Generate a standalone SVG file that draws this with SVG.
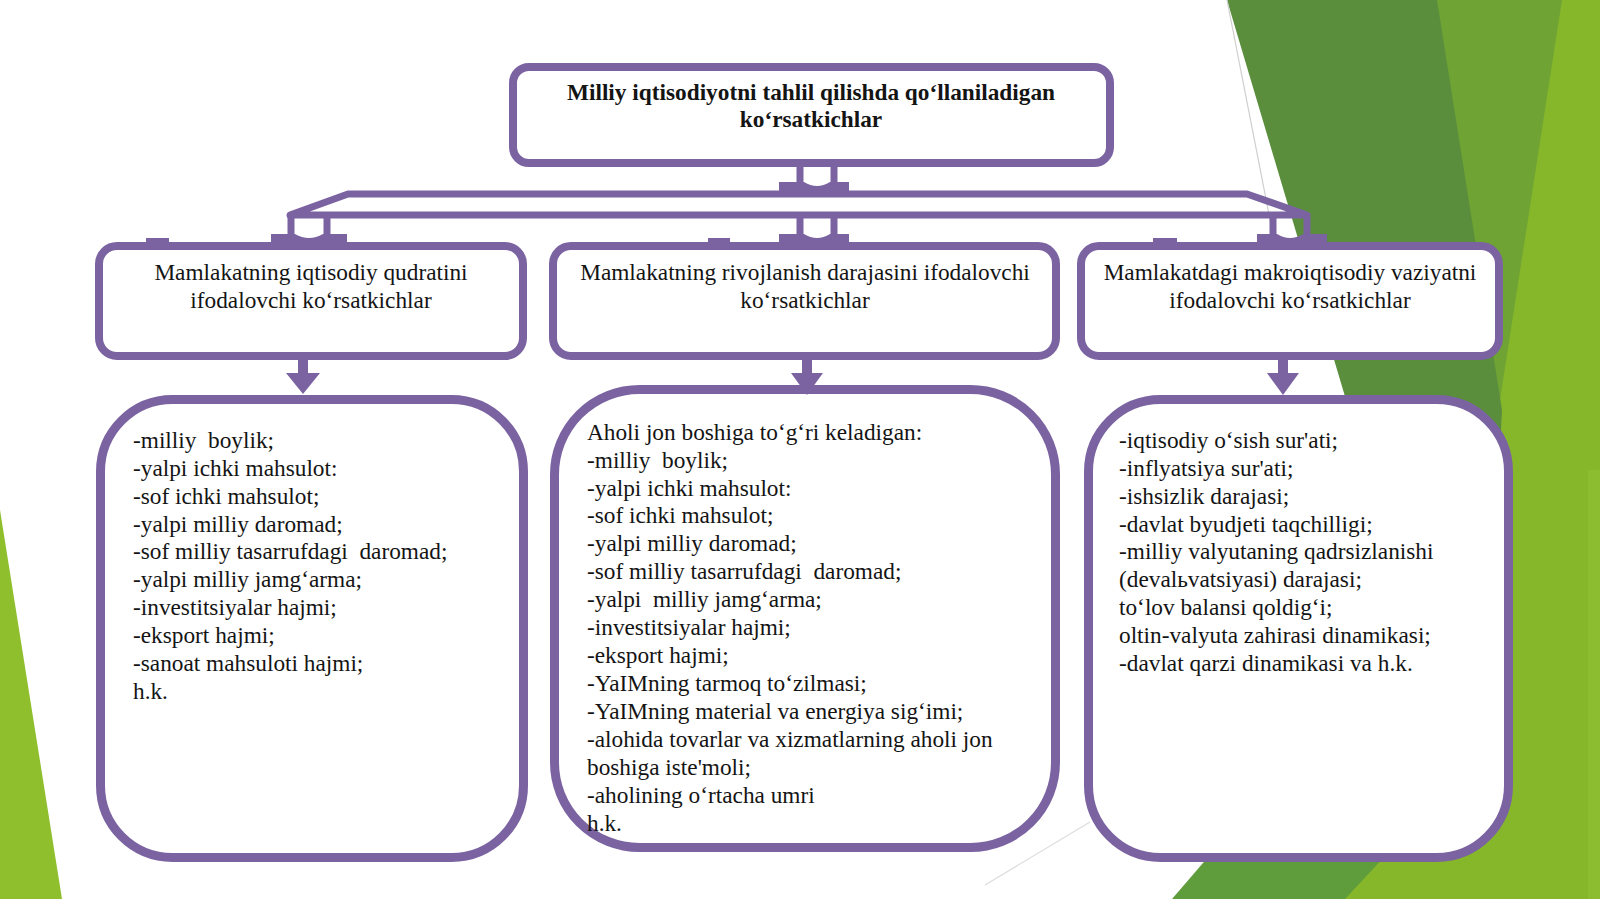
<svg xmlns="http://www.w3.org/2000/svg" width="1600" height="899" viewBox="0 0 1600 899">
<style>
.box{fill:#ffffff;stroke:#7b63a2;stroke-width:8}
.big{fill:#ffffff;stroke:#7b63a2;stroke-width:9}
.ln{fill:none;stroke:#7b63a2;stroke-width:7}
.pf{fill:#7b63a2;stroke:none}
.t{font-family:"Liberation Serif","Times New Roman",serif;font-size:23.3px;fill:#141414;white-space:pre}
.h{text-anchor:middle}
.b{font-weight:bold}
</style>
<rect width="1600" height="899" fill="#ffffff"/>
<g id="background">
<polygon points="0,510 62,899 0,899" fill="#8fbf2c"/>
<polygon points="1433,0 1600,0 1600,899 1341,899 1380,700" fill="#86b72b"/>
<polygon points="1433,0 1562,0 1500,400" fill="#6fa334"/>
<polygon points="1227,0 1437,0 1502,410 1480,850" fill="#5a8e3d"/>
<polygon points="1172,899 1345,899 1400,840 1240,820" fill="#5f9c3b"/>
<rect x="1588" y="470" width="12" height="429" fill="#8cbc30"/>
<line x1="1227" y1="0" x2="1275" y2="245" stroke="#cfcfcf" stroke-width="1.2"/>
<line x1="985" y1="885" x2="1090" y2="822" stroke="#dcdcdc" stroke-width="1.2"/>
</g>
<g id="n-top">
<rect class="box" x="513" y="67" width="597" height="96" rx="16"/>
<text class="t h b" x="811" y="100">Milliy iqtisodiyotni tahlil qilishda qo‘llaniladigan</text>
<text class="t h b" x="811" y="127">ko‘rsatkichlar</text>
</g>
<g id="n-h1">
<rect class="box" x="99" y="246" width="424" height="110" rx="18"/>
<text class="t h" x="311" y="280">Mamlakatning iqtisodiy qudratini</text>
<text class="t h" x="311" y="308">ifodalovchi ko‘rsatkichlar</text>
</g>
<g id="n-h2">
<rect class="box" x="553" y="246" width="503" height="110" rx="18"/>
<text class="t h" x="805" y="280">Mamlakatning rivojlanish darajasini ifodalovchi</text>
<text class="t h" x="805" y="308">ko‘rsatkichlar</text>
</g>
<g id="n-h3">
<rect class="box" x="1081" y="246" width="418" height="110" rx="18"/>
<text class="t h" x="1290" y="280">Mamlakatdagi makroiqtisodiy vaziyatni</text>
<text class="t h" x="1290" y="308">ifodalovchi ko‘rsatkichlar</text>
</g>
<g id="n-l1">
<rect class="big" x="100.5" y="399.5" width="423" height="458" rx="72"/>
<text class="t" x="133" y="448">-milliy  boylik;</text>
<text class="t" x="133" y="476">-yalpi ichki mahsulot:</text>
<text class="t" x="133" y="504">-sof ichki mahsulot;</text>
<text class="t" x="133" y="532">-yalpi milliy daromad;</text>
<text class="t" x="133" y="559">-sof milliy tasarrufdagi  daromad;</text>
<text class="t" x="133" y="587">-yalpi milliy jamg‘arma;</text>
<text class="t" x="133" y="615">-investitsiyalar hajmi;</text>
<text class="t" x="133" y="643">-eksport hajmi;</text>
<text class="t" x="133" y="671">-sanoat mahsuloti hajmi;</text>
<text class="t" x="133" y="699">h.k.</text>
</g>
<g id="n-l2">
<rect class="big" x="554.5" y="389.5" width="501" height="458" rx="85"/>
<text class="t" x="587" y="440">Aholi jon boshiga to‘g‘ri keladigan:</text>
<text class="t" x="587" y="468">-milliy  boylik;</text>
<text class="t" x="587" y="496">-yalpi ichki mahsulot:</text>
<text class="t" x="587" y="523">-sof ichki mahsulot;</text>
<text class="t" x="587" y="551">-yalpi milliy daromad;</text>
<text class="t" x="587" y="579">-sof milliy tasarrufdagi  daromad;</text>
<text class="t" x="587" y="607">-yalpi  milliy jamg‘arma;</text>
<text class="t" x="587" y="635">-investitsiyalar hajmi;</text>
<text class="t" x="587" y="663">-eksport hajmi;</text>
<text class="t" x="587" y="691">-YaIMning tarmoq to‘zilmasi;</text>
<text class="t" x="587" y="719">-YaIMning material va energiya sig‘imi;</text>
<text class="t" x="587" y="747">-alohida tovarlar va xizmatlarning aholi jon</text>
<text class="t" x="587" y="775">boshiga iste'moli;</text>
<text class="t" x="587" y="803">-aholining o‘rtacha umri</text>
<text class="t" x="587" y="831">h.k.</text>
</g>
<g id="n-l3">
<rect class="big" x="1088.5" y="399.5" width="420" height="458" rx="72"/>
<text class="t" x="1119" y="448">-iqtisodiy o‘sish sur'ati;</text>
<text class="t" x="1119" y="476">-inflyatsiya sur'ati;</text>
<text class="t" x="1119" y="504">-ishsizlik darajasi;</text>
<text class="t" x="1119" y="532">-davlat byudjeti taqchilligi;</text>
<text class="t" x="1119" y="559">-milliy valyutaning qadrsizlanishi</text>
<text class="t" x="1119" y="587">(devalьvatsiyasi) darajasi;</text>
<text class="t" x="1119" y="615">to‘lov balansi qoldig‘i;</text>
<text class="t" x="1119" y="643">oltin-valyuta zahirasi dinamikasi;</text>
<text class="t" x="1119" y="671">-davlat qarzi dinamikasi va h.k.</text>
</g>
<g id="connectors">
<polygon class="ln" points="348,194 1247,194 1307,215 290,215" stroke-linejoin="round"/>
<line class="ln" x1="800" y1="166" x2="800" y2="192" stroke-width="8"/>
<line class="ln" x1="834" y1="166" x2="834" y2="192" stroke-width="8"/>
<path class="pf" d="M779,182 H804 Q817,190 830,182 H849 V191 H779 Z"/>
<line class="ln" x1="291" y1="216" x2="291" y2="243" stroke-width="8"/>
<line class="ln" x1="327" y1="216" x2="327" y2="243" stroke-width="8"/>
<path class="pf" d="M271,234 H295 Q309,242 323,234 H347 V243 H271 Z"/>
<line class="ln" x1="800" y1="216" x2="800" y2="243" stroke-width="8"/>
<line class="ln" x1="834" y1="216" x2="834" y2="243" stroke-width="8"/>
<path class="pf" d="M779,234 H804 Q817,242 830,234 H849 V243 H779 Z"/>
<line class="ln" x1="1273" y1="216" x2="1273" y2="243" stroke-width="8"/>
<line class="ln" x1="1307" y1="216" x2="1307" y2="243" stroke-width="8"/>
<path class="pf" d="M1257,234 H1277 Q1290,242 1303,234 H1327 V243 H1257 Z"/>
<rect class="pf" x="146" y="238" width="23" height="6"/>
<rect class="pf" x="708" y="238" width="22" height="6"/>
<rect class="pf" x="1153" y="238" width="24" height="6"/>
<path class="pf" d="M298,359 H308 V373 H320 L303,394 L286,373 H298 Z"/>
<path class="pf" d="M802,359 H812 V373 H823 L807,395 L791,373 H802 Z"/>
<path class="pf" d="M1278,359 H1288 V373 H1299 L1283,395 L1267,373 H1278 Z"/>
</g>
</svg>
